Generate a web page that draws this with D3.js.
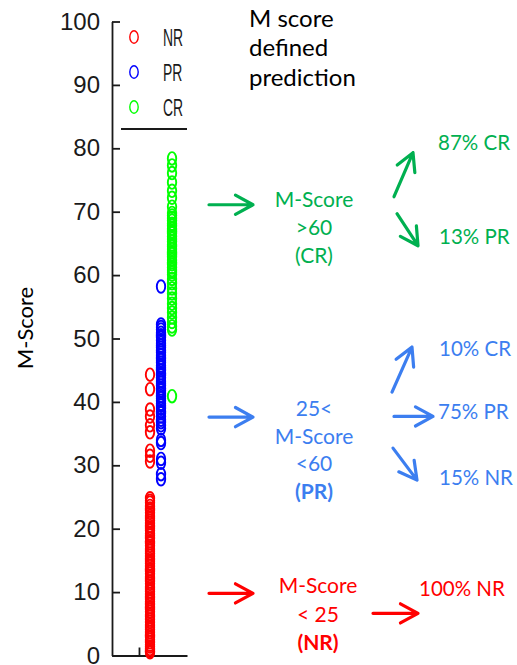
<!DOCTYPE html>
<html>
<head>
<meta charset="utf-8">
<script src="https://cdn.jsdelivr.net/npm/d3@7"></script>
<style>
  body { margin: 0; background: #fff; }
</style>
</head>
<body>
<svg id="chart" width="517" height="665"></svg>
<script>
// Response groups and their marker colours
const groups = ['NR', 'PR', 'CR'];
const groupColors = ['#ff0000', '#0000ff', '#00ff00'];

// M-Score of each patient
const nrScores = [44.3, 42.0, 38.8, 37.7, 36.3, 35.2, 32.3, 31.5, 30.6,
  24.8, 24.4, 24.1, 23.6, 23.2, 22.9, 22.5, 22.0, 21.7, 21.3, 20.9, 20.4, 20.1, 19.7,
  19.2, 18.9, 18.5, 18.0, 17.7, 17.3, 16.8, 16.5, 16.1, 15.7, 15.2, 14.9, 14.5, 14.1,
  13.6, 13.3, 12.9, 12.4, 12.1, 11.7, 11.3, 10.8, 10.5, 10.1, 9.7, 9.2, 8.9, 8.5, 8.1,
  7.6, 7.3, 6.9, 6.4, 6.1, 5.7, 5.3, 4.8, 4.5, 4.1, 3.7, 3.2, 2.9, 2.5, 2.1, 1.7, 1.4,
  1.0, 0.7, 0.5];
const prScores = [58.2,
  52.2, 51.8, 51.4, 50.9, 50.5, 50.2, 49.7, 49.3, 48.9, 48.6, 48.1, 47.8, 47.4, 46.9,
  46.6, 46.2, 45.7, 45.4, 45.0, 44.5, 44.2, 43.8, 43.3, 43.0, 42.6, 42.1, 41.8, 41.4,
  40.9, 40.6, 40.2, 39.7, 39.4, 39.0, 38.5, 38.2, 37.7, 37.2, 36.8, 36.3, 35.8,
  34.0, 33.5, 31.0, 30.4, 28.6, 27.8];
const crScores = [78.4, 77.3, 76.1, 74.6, 73.3, 72.2, 70.8,
  69.8, 69.4, 69.0, 68.6, 68.1, 67.8, 67.3, 66.9, 66.6, 66.1, 65.7, 65.3, 64.8, 64.5,
  64.1, 63.6, 63.3, 62.9, 62.4, 62.0, 61.7, 61.2, 60.8, 60.5, 60.1,
  59.4, 58.7, 57.9, 57.1, 56.3, 55.5, 54.8, 54.1, 53.3, 52.6, 51.9, 51.4,
  40.9];
const groupScores = [nrScores, prScores, crScores];

const yTicks = [0, 10, 20, 30, 40, 50, 60, 70, 80, 90, 100];
const yTitle = 'M-Score';
const headerLines = ['M score', 'defined', 'prediction'];

// Cut-off rules and the outcome split within each band
const bandLines = [
  ['M-Score', '>60', '(CR)'],
  ['25<', 'M-Score', '<60', '(PR)'],
  ['M-Score', '< 25', '(NR)']
];
const bandOutcomes = [
  ['87% CR', '13% PR'],
  ['10% CR', '75% PR', '15% NR'],
  ['100% NR']
];
const bandColors = ['#00b050', '#3c7ef0', '#ff0000'];

const svg = d3.select('#chart');

// Scales
const y = d3.scaleLinear().domain([0, 100]).range([655.5, 21.5]);
const x = d3.scaleLinear().domain([-2.45, 4.36]).range([112, 187]);

const plot = svg.append('g');

// Y axis
const yAxis = plot.append('g')
  .attr('transform', 'translate(112,0)')
  .call(d3.axisLeft(y).tickValues(yTicks).tickSizeInner(-8).tickSizeOuter(0).tickPadding(12));
yAxis.selectAll('path, line').attr('stroke', '#1a1a1a').attr('stroke-width', 1.8);
yAxis.selectAll('text')
  .style('font-family', '"Liberation Sans", Arial, sans-serif')
  .style('font-size', '24px')
  .attr('fill', '#1a1a1a');

// X axis (single tick, no labels)
const xAxis = plot.append('g')
  .attr('transform', `translate(0,${y(0)})`)
  .call(d3.axisBottom(x).tickValues([0]).tickFormat('').tickSizeInner(-8).tickSizeOuter(0));
xAxis.selectAll('path, line').attr('stroke', '#1a1a1a').attr('stroke-width', 1.8);

// Points
groups.forEach((grp, i) => {
  plot.append('g')
    .selectAll('ellipse')
    .data(groupScores[i])
    .enter()
    .append('ellipse')
    .attr('cx', x(i + 1))
    .attr('cy', d => y(d))
    .attr('rx', 4.2)
    .attr('ry', 6.3)
    .attr('fill', 'none')
    .attr('stroke', groupColors[i])
    .attr('stroke-width', 1.9);
});

// Legend
const legend = plot.append('g');
groups.forEach((grp, i) => {
  const ly = 37 + i * 35;
  legend.append('ellipse')
    .attr('cx', 134).attr('cy', ly)
    .attr('rx', 4.2).attr('ry', 6.2)
    .attr('fill', 'none')
    .attr('stroke', groupColors[i])
    .attr('stroke-width', 1.4);
  legend.append('text')
    .attr('transform', `translate(163,${ly + 8.6}) scale(0.58,1)`)
    .style('font-family', '"Liberation Sans", Arial, sans-serif')
    .style('font-size', '24px')
    .attr('fill', '#1a1a1a')
    .text(grp);
});
legend.append('line')
  .attr('x1', 121).attr('x2', 187)
  .attr('y1', 129).attr('y2', 129)
  .attr('stroke', '#1a1a1a').attr('stroke-width', 1.8);

// Y axis title
svg.append('text')
  .attr('transform', `translate(33,${328}) rotate(-90)`)
  .attr('text-anchor', 'middle')
  .style('font-family', 'Lato, sans-serif')
  .style('font-size', '22px')
  .attr('fill', '#000')
  .text(yTitle);

// Header
svg.append('g').selectAll('text')
  .data(headerLines)
  .enter()
  .append('text')
  .attr('x', 249)
  .attr('y', (d, i) => 26.7 + i * 29.7)
  .style('font-family', 'Lato, sans-serif')
  .style('font-size', '24px')
  .attr('fill', '#000')
  .text(d => d);

// Arrow helper: straight shaft with an open V head
function arrow(g, x1, y1, x2, y2, color) {
  const a = Math.atan2(y2 - y1, x2 - x1);
  const len = 20, spread = 0.5;
  const p = d3.path();
  p.moveTo(x1, y1);
  p.lineTo(x2, y2);
  p.moveTo(x2 - len * Math.cos(a - spread), y2 - len * Math.sin(a - spread));
  p.lineTo(x2, y2);
  p.lineTo(x2 - len * Math.cos(a + spread), y2 - len * Math.sin(a + spread));
  g.append('path')
    .attr('d', p.toString())
    .attr('fill', 'none')
    .attr('stroke', color)
    .attr('stroke-width', 3.2)
    .attr('stroke-linecap', 'round')
    .attr('stroke-linejoin', 'round');
}

// Band annotations, anchored at the score level of the entry arrow
const bandAnchors = [71.1, 37.6, 9.8];
const bandLayout = [
  { cx: 314, first: 2, step: 28, bold: -1,
    out: [[438, -55], [439, 39]],
    arrows: [[394, -8, 413, -52], [397, 9, 418, 41]] },
  { cx: 314, first: -0.7, step: 27.4, bold: 3,
    out: [[439, -60.7], [438, 1.6], [439, 67.6]],
    arrows: [[392, -25, 412, -70], [394, -0.7, 433, -0.7], [393, 31, 417, 63]] },
  { cx: 318, first: 0, step: 28.4, bold: 2,
    out: [[419, 2.7]],
    arrows: [[373, 20, 418, 20]] }
];

bandLines.forEach((lines, i) => {
  const ay = y(bandAnchors[i]);
  const lay = bandLayout[i];
  const col = bandColors[i];
  const g = svg.append('g');

  arrow(g, 209, ay, 253, ay, col);

  g.selectAll('text.rule')
    .data(lines)
    .enter()
    .append('text')
    .attr('class', 'rule')
    .attr('x', lay.cx)
    .attr('y', (d, j) => ay + lay.first + j * lay.step)
    .attr('text-anchor', 'middle')
    .style('font-family', 'Lato, sans-serif')
    .style('font-size', '21px')
    .style('font-weight', (d, j) => j === lay.bold ? 'bold' : 'normal')
    .attr('fill', col)
    .text(d => d);

  lay.arrows.forEach(a => arrow(g, a[0], ay + a[1], a[2], ay + a[3], col));

  g.selectAll('text.out')
    .data(bandOutcomes[i])
    .enter()
    .append('text')
    .attr('class', 'out')
    .attr('x', (d, j) => lay.out[j][0])
    .attr('y', (d, j) => ay + lay.out[j][1])
    .style('font-family', 'Lato, sans-serif')
    .style('font-size', '20.5px')
    .attr('fill', col)
    .text(d => d);
});
</script>
</body>
</html>
